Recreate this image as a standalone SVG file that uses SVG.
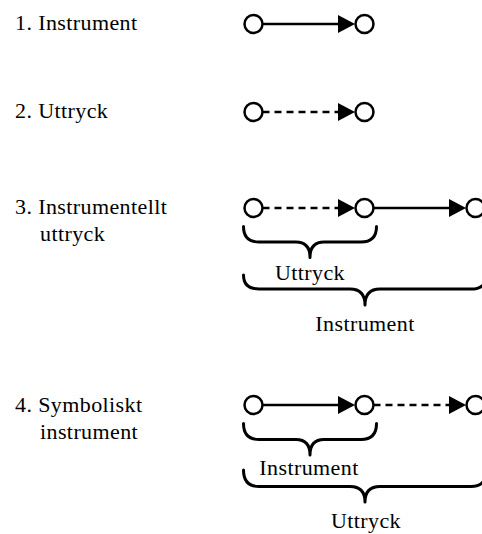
<svg xmlns="http://www.w3.org/2000/svg" width="482" height="534" viewBox="0 0 482 534">
<style>
text{font-family:"Liberation Serif","Times New Roman",serif;font-size:22px;fill:#000;letter-spacing:0.4px}
.mid{text-anchor:middle}
.node{fill:#fff;stroke:#000;stroke-width:2.5}
.edge{fill:none;stroke:#000;stroke-width:2.5}
.dash{stroke-dasharray:7 5}
.brace{fill:none;stroke:#000;stroke-width:3;stroke-linecap:round;stroke-linejoin:round}
</style>
<defs>
<marker id="arr" markerUnits="userSpaceOnUse" markerWidth="18" markerHeight="18" refX="0" refY="9" orient="auto" overflow="visible">
<path d="M0,0 L17,9 L0,18 Z" fill="#000"/>
</marker>
</defs>
<rect width="482" height="534" fill="#fff"/>

<g id="labels">
<text x="15" y="30">1. Instrument</text>
<text x="15" y="118">2. Uttryck</text>
<text x="15" y="214">3. Instrumentellt</text>
<text x="40" y="241">uttryck</text>
<text x="15" y="412">4. Symboliskt</text>
<text x="40" y="439">instrument</text>
</g>

<g id="connectors">
<line class="edge" x1="262.5" y1="24" x2="338" y2="24" marker-end="url(#arr)"/>
<line class="edge dash" x1="262.5" y1="112" x2="338" y2="112" marker-end="url(#arr)"/>
<line class="edge dash" x1="262.5" y1="208" x2="338" y2="208" marker-end="url(#arr)"/>
<line class="edge" x1="373.5" y1="208" x2="449" y2="208" marker-end="url(#arr)"/>
<line class="edge" x1="262.5" y1="405" x2="338" y2="405" marker-end="url(#arr)"/>
<line class="edge dash" x1="373.5" y1="405" x2="449" y2="405" marker-end="url(#arr)"/>
</g>

<g id="row1">
<circle class="node" cx="253.5" cy="24" r="9"/>
<circle class="node" cx="364.5" cy="24" r="9"/>
</g>
<g id="row2">
<circle class="node" cx="253.5" cy="112" r="9"/>
<circle class="node" cx="364.5" cy="112" r="9"/>
</g>
<g id="row3">
<circle class="node" cx="253.5" cy="208" r="9"/>
<circle class="node" cx="364.5" cy="208" r="9"/>
<circle class="node" cx="475.5" cy="208" r="9"/>
<path class="brace" d="M243.5,226.5 Q243.5,242 259,242 L296,242 Q310,242 310,257.5 Q310,242 324,242 L361,242 Q376.5,242 376.5,226.5"/>
<text class="mid" x="310" y="280">Uttryck</text>
<path class="brace" d="M243.5,275 Q243.5,289 259,289 L350,289 Q365,289 365,305 Q365,289 380,289 L471,289 Q486.5,289 486.5,275"/>
<text class="mid" x="365" y="330.5">Instrument</text>
</g>
<g id="row4">
<circle class="node" cx="253.5" cy="405" r="9"/>
<circle class="node" cx="364.5" cy="405" r="9"/>
<circle class="node" cx="475.5" cy="405" r="9"/>
<path class="brace" d="M243.5,423.5 Q243.5,439.5 259,439.5 L296,439.5 Q310,439.5 310,455 Q310,439.5 324,439.5 L361,439.5 Q376.5,439.5 376.5,423.5"/>
<text class="mid" x="309" y="475">Instrument</text>
<path class="brace" d="M243.5,470 Q243.5,486.5 259,486.5 L350,486.5 Q365,486.5 365,502 Q365,486.5 380,486.5 L471,486.5 Q486.5,486.5 486.5,470"/>
<text class="mid" x="366" y="528">Uttryck</text>
</g>
</svg>
